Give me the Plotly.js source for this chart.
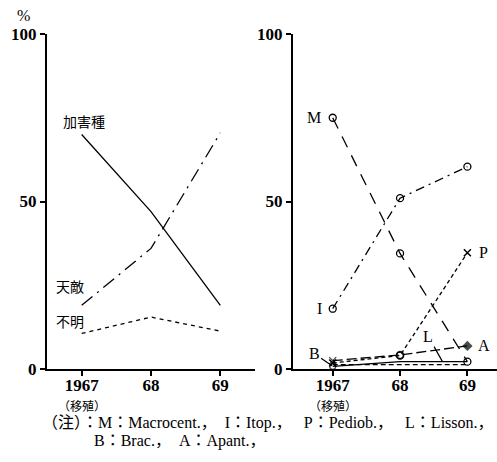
<!DOCTYPE html>
<html>
<head>
<meta charset="utf-8">
<script src="https://cdn.plot.ly/plotly-3.0.1.min.js"></script>
<style>html,body{margin:0;padding:0;background:#fff;}#chart{width:497px;height:462px;}</style>
</head>
<body>
<div id="chart"></div>
<script>
// ---- data ----
const years = ['1967', '68', '69'];
const pest = [70, 47, 19];        // 加害種
const enemy = [19, 36, 70.5];     // 天敵
const unknown = [10.6, 15.5, 11.3]; // 不明

const seriesM = [75, 34.5, 2.2];
const seriesI = [18, 51, 60.4];
const seriesP = [1.8, 4, 34.7];
const seriesA = [2.5, 4.2, 6.9];
const seriesL = [0.8, 2.2, 2.2];
const seriesB = [1.3, 1.2, 1.3];

const yTickValues = [0, 10, 20, 30, 40, 50, 60, 70, 80, 90, 100];

const subLabel = '（移殖）';
const sp = '\u00a0';
const note1 = '（注）：M：Macrocent.，' + sp + sp + 'I：Itop.，' + sp + sp + sp + 'P：Pediob.，' + sp + sp + sp + 'L：Lisson.，';
const note2 = 'B：Brac.，' + sp + sp + 'A：Apant.，';

const ink = '#000';
const serif = 'Liberation Serif, DejaVu Serif, serif';
const cjk = 'Liberation Serif, Noto Sans CJK JP, serif';

const xRange1 = [-0.5, 2.5];
const xRange2 = [-0.59, 2.44];

function ln(x, y, xa, ya, dash, marker) {
  const t = {
    type: 'scatter', x: x, y: y, xaxis: xa, yaxis: ya,
    mode: marker ? 'lines+markers' : 'lines',
    line: {color: ink, width: 1.3, dash: dash},
    hoverinfo: 'skip', showlegend: false
  };
  if (marker) t.marker = marker;
  return t;
}
function tickMarks(xs, ys, xa, ya, sym) {
  return {type: 'scatter', mode: 'markers', x: xs, y: ys, xaxis: xa, yaxis: ya, cliponaxis: false,
    marker: {symbol: sym, size: 10, color: ink, line: {width: 2, color: ink}},
    hoverinfo: 'skip', showlegend: false};
}

const openCircle = {symbol: 'circle-open', size: 7, color: ink, line: {width: 1.3, color: ink}};

const data = [
  ln(years, pest, 'x', 'y', 'solid'),
  ln(years, enemy, 'x', 'y', '14px,6px,2px,6px'),
  ln(years, unknown, 'x', 'y', '4px,4px'),

  ln(years, seriesM, 'x2', 'y2', '12px,9px', openCircle),
  ln(years, seriesI, 'x2', 'y2', '9px,5px,2px,5px', openCircle),
  ln(years, seriesP, 'x2', 'y2', '4px,3px', {symbol: ['x-thin-open', 'circle-open', 'x-thin-open'], size: 7, color: ink, line: {width: 1.5, color: ink}}),
  ln(years, seriesL, 'x2', 'y2', 'solid', {symbol: 'circle-open', size: [6, 0, 0], color: ink, line: {width: 1.3, color: ink}}),
  ln(years, seriesB, 'x2', 'y2', '5px,3px'),
  ln(years, seriesA, 'x2', 'y2', '10px,4px', {symbol: ['x-thin-open', 'circle-open', 'diamond'], size: [7, 7, 8], color: '#000', line: {width: [1.4, 1.4, 0], color: '#000'}}),

  // axis tick marks (every 10 %, and at each year)
  tickMarks(yTickValues.map(() => xRange1[0]), yTickValues, 'x', 'y', 'line-ew-open'),
  tickMarks(yTickValues.map(() => xRange2[0]), yTickValues, 'x2', 'y2', 'line-ew-open'),
  tickMarks([0, 1, 2], years.map(() => 0), 'x', 'y', 'line-ns-open'),
  tickMarks([0, 1, 2], years.map(() => 0), 'x2', 'y2', 'line-ns-open')
];

const xbase = {
  type: 'category', categoryorder: 'array', categoryarray: years,
  showline: true, linecolor: ink, linewidth: 1.5, ticks: 'outside', ticklen: 5,
  tickcolor: ink, tickwidth: 1.5, showgrid: false, zeroline: false,
  ticklabelstandoff: -5,
  tickfont: {family: serif, size: 17, color: ink, weight: 'bold'}
};
const ybase = {
  range: [0, 100], tickmode: 'linear', tick0: 0, dtick: 50, showline: true, linecolor: ink, linewidth: 2,
  ticks: 'outside', ticklen: 5, tickcolor: ink, tickwidth: 1.5, showgrid: false,
  zeroline: false, tickfont: {family: serif, size: 17, color: ink, weight: 'bold'}
};

const lab = (text, x, y, ref, size, extra) => Object.assign({
  text: text, x: x, y: y, xref: 'x' + ref, yref: 'y' + ref, showarrow: false,
  font: {family: cjk, size: size || 15, color: ink}
}, extra || {});

const lf = {family: serif, size: 16, color: ink};

const layout = {
  width: 497, height: 462,
  margin: {l: 0, r: 0, t: 34, b: 93},
  paper_bgcolor: '#fff', plot_bgcolor: 'rgba(0,0,0,0)',
  showlegend: false,
  xaxis: Object.assign({}, xbase, {domain: [47 / 497, 255 / 497], range: xRange1, anchor: 'y'}),
  yaxis: Object.assign({}, ybase, {domain: [0, 1], anchor: 'x'}),
  xaxis2: Object.assign({}, xbase, {domain: [293 / 497, 497 / 497], range: xRange2, anchor: 'y2'}),
  yaxis2: Object.assign({}, ybase, {domain: [0, 1], anchor: 'x2'}),
  annotations: [
    lab('加害種', 0.03, 73.7, '', 14),
    lab('天敵', -0.17, 24.2, '', 14),
    lab('不明', -0.17, 14, '', 14),
    lab('M', -0.28, 75, '2', 15, {font: lf}),
    lab('I', -0.2, 18, '2', 15, {font: lf}),
    lab('P', 2.24, 34.7, '2', 15, {font: lf}),
    lab('A', 2.24, 7, '2', 15, {font: lf}),
    lab('L', 1.63, 2.2, '2', 15, {font: lf, showarrow: true, arrowhead: 0, arrowwidth: 1.2, arrowcolor: ink, ax: -14, ay: -25}),
    lab('B', -0.01, 1.0, '2', 15, {font: lf, showarrow: true, arrowhead: 0, arrowwidth: 1.2, arrowcolor: ink, ax: -18, ay: -12}),
    {text: '%', x: 23 / 497, y: 1, xref: 'paper', yref: 'paper', xanchor: 'center', yanchor: 'middle', yshift: 19, showarrow: false,
     font: {family: serif, size: 16, color: ink}},
    {text: subLabel, x: 0, xref: 'x', y: 0, yref: 'paper', yanchor: 'middle', yshift: -36, showarrow: false,
     font: {family: 'Noto Sans CJK JP, sans-serif', size: 12, color: ink}},
    {text: subLabel, x: 0, xref: 'x2', y: 0, yref: 'paper', yanchor: 'middle', yshift: -36, showarrow: false,
     font: {family: 'Noto Sans CJK JP, sans-serif', size: 12, color: ink}},
    {text: note1, x: 40 / 497, y: 0, xref: 'paper', yref: 'paper', xanchor: 'left', yanchor: 'middle', yshift: -54,
     showarrow: false, font: {family: cjk, size: 16, color: ink}},
    {text: note2, x: 92 / 497, y: 0, xref: 'paper', yref: 'paper', xanchor: 'left', yanchor: 'middle', yshift: -72,
     showarrow: false, font: {family: cjk, size: 16, color: ink}}
  ]
};

Plotly.newPlot('chart', data, layout, {displayModeBar: false});
</script>
</body>
</html>
